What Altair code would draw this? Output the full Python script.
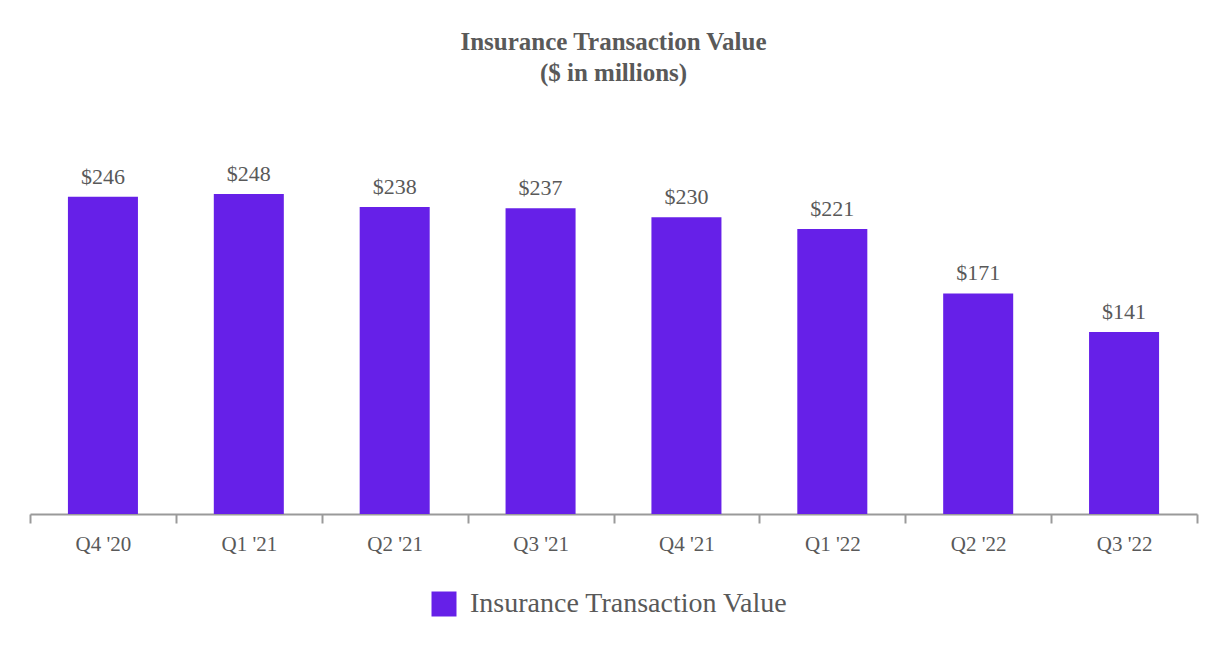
import altair as alt
import pandas as pd

quarters = ["Q4 '20", "Q1 '21", "Q2 '21", "Q3 '21", "Q4 '21", "Q1 '22", "Q2 '22", "Q3 '22"]
values = [246, 248, 238, 237, 230, 221, 171, 141]
series_name = "Insurance Transaction Value"

df = pd.DataFrame({"quarter": quarters, "value": values, "series": [series_name] * len(quarters)})
df["label"] = ["$" + str(v) for v in values]

FONT = "Liberation Serif"
TXT = "#595959"
PURPLE = "#6620E8"

x = alt.X("quarter:N", sort=quarters, title=None,
          scale=alt.Scale(paddingInner=0, paddingOuter=0),
          axis=alt.Axis(labelAngle=0, labelFont=FONT, labelFontSize=21, labelColor=TXT,
                        domainColor="#9a9a9a", domainWidth=2, tickColor="#9a9a9a", tickWidth=2,
                        tickSize=9, tickBand="extent", labelPadding=10))
y = alt.Y("value:Q", scale=alt.Scale(domain=[0, 300]), axis=None)

bars = alt.Chart(df).mark_bar(width=alt.RelativeBandSize(0.48)).encode(
    x=x, y=y,
    color=alt.Color("series:N", scale=alt.Scale(range=[PURPLE]),
                    legend=alt.Legend(title=None, orient="none", legendX=400, legendY=463,
                                      symbolType="square", symbolSize=625, symbolStrokeWidth=0,
                                      labelFont=FONT, labelFontSize=28, labelColor=TXT,
                                      labelOffset=12, labelLimit=600, symbolOpacity=1)),
)
labels = alt.Chart(df).mark_text(font=FONT, fontSize=22, color=TXT, baseline="bottom", dy=-8).encode(
    x=alt.X("quarter:N", sort=quarters), y="value:Q", text="label:N")

chart = (bars + labels).properties(
    width=1167, height=387,
    title=alt.TitleParams(["Insurance Transaction Value", "($ in millions)"], font=FONT, fontSize=25,
                          fontWeight="bold", color=TXT, lineHeight=31, anchor="middle", offset=41),
    autosize=alt.AutoSizeParams(type="none"),
    padding={"left": 22, "top": 119, "right": 21, "bottom": 130},
    background="white",
).configure_view(stroke=None)

chart.save("out.html", embed_options={"renderer": "svg", "actions": False})
